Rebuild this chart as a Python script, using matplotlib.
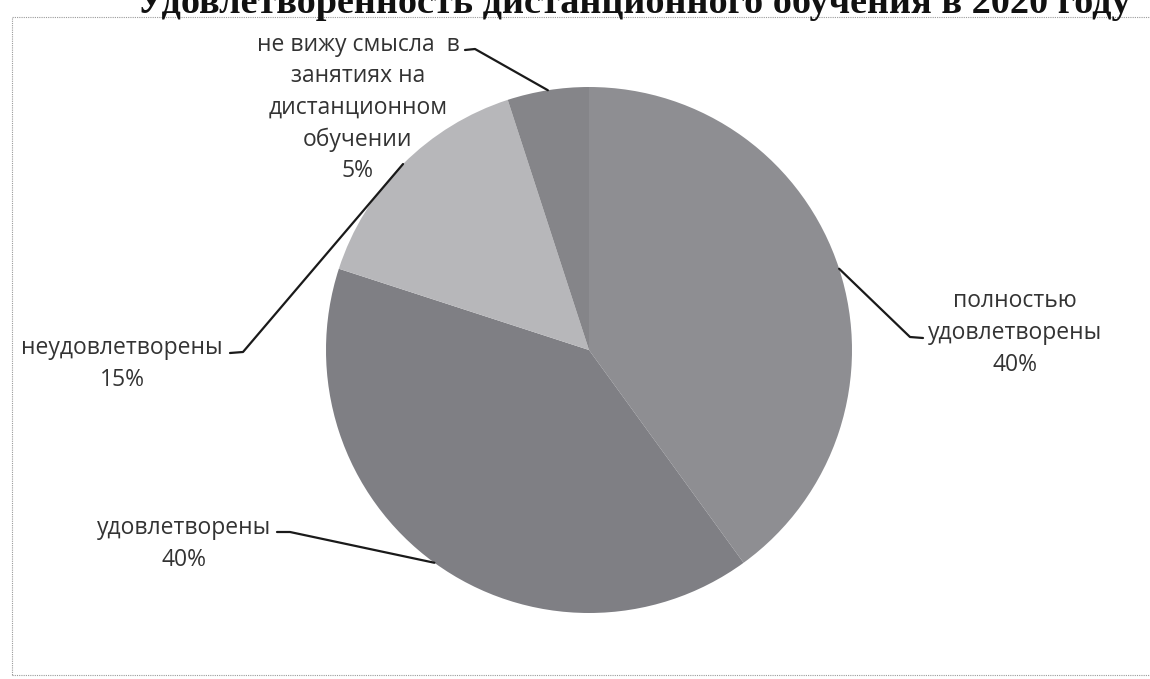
import matplotlib
matplotlib.use('Agg')
import matplotlib.pyplot as plt
import numpy as np
from matplotlib.patches import Rectangle

# data
labels = ['полностью\nудовлетворены', 'удовлетворены', 'неудовлетворены',
          'не вижу смысла  в\nзанятиях на\nдистанционном\nобучении']
shares = [40, 40, 15, 5]
colors = ['#8e8e92', '#7f7f84', '#b7b7ba', '#858589']
title = 'Удовлетворенность дистанционного обучения в 2020 году'

W, H = 1150, 679
cx, cy = 589, 350          # pie centre in pixels (from top)
r = 263

plt.rcParams['font.family'] = ['Open Sans', 'DejaVu Sans']

fig = plt.figure(figsize=(W / 100, H / 100), dpi=100)
ax = fig.add_axes([0, 0, 1, 1])

wedges, _ = ax.pie(shares, colors=colors, startangle=90, counterclock=False,
                   radius=1, wedgeprops=dict(linewidth=0))
ax.set_aspect('auto')
ax.set_xlim(-cx / r, (W - cx) / r)
ax.set_ylim(-(H - cy) / r, cy / r)
ax.axis('off')


def px(x, y):
    return (x - cx) / r, (cy - y) / r


# label text positions and leader elbows (pixels)
text_pos = [(1015, 333), (184, 544), (122, 364), (358, 108)]
elbows = [[(923, 338), (910, 337)],
          [(277, 532), (290, 532)],
          [(230, 353), (243, 352)],
          [(465, 50), (475, 49)]]

for w, lab, share, tp, el in zip(wedges, labels, shares, text_pos, elbows):
    mid = np.deg2rad((w.theta1 + w.theta2) / 2)
    edge = (np.cos(mid), np.sin(mid))
    pts = [px(*p) for p in el] + [edge]
    xs, ys = zip(*pts)
    ax.plot(xs, ys, color='#1a1a1a', lw=1.6, solid_capstyle='round')
    ax.text(*px(*tp), f'{lab}\n{share}%', ha='center', va='center',
            fontsize=16.5, color='#333333', linespacing=1.42)

# dotted frame of the scanned chart area (right side runs off the scan)
fig.patches.append(Rectangle((12 / W, 1 - 675 / H), 1150 / W, 658 / H,
                             transform=fig.transFigure, fill=False,
                             edgecolor='#9a9a9a', lw=0.8, ls=(0, (1, 1))))

# title, cut off by the scan edge
fig.text(634 / W, 1 - 13 / H, title, ha='center', va='baseline',
         fontsize=27.5, fontweight='bold', family=['Liberation Serif', 'DejaVu Serif'],
         color='#111111')

fig.savefig('out.png', dpi=100, facecolor='white')
